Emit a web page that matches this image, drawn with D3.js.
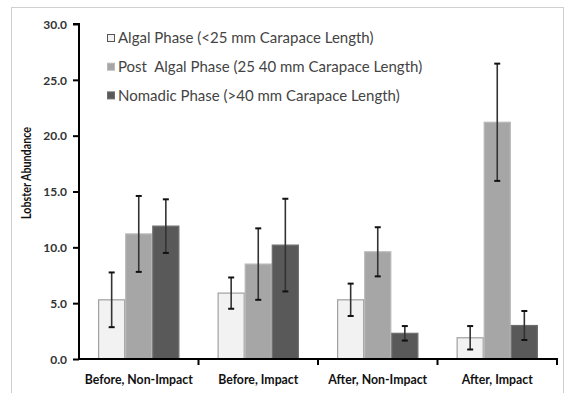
<!DOCTYPE html>
<meta charset="utf-8">
<style>
    body { margin: 0; background: #fff; }
    .frame { fill: none; stroke: #d0d0d0; stroke-width: 1px; }
    .axis-line { stroke: #000; stroke-width: 2px; fill: none; }
    .tick-label { font-family: Lato, sans-serif; font-size: 12px; font-weight: bold; fill: #333; }
    .cat-label { font-family: Lato, sans-serif; font-size: 12.3px; font-weight: bold; fill: #111; }
    .y-title { font-family: Lato, sans-serif; font-size: 13px; font-weight: bold; fill: #111; }
    .legend-text { font-family: Lato, sans-serif; font-size: 15px; fill: #444; }
    .err { stroke: #333; stroke-width: 1.6px; }
    .err-cap { stroke: #111; stroke-width: 2px; }
</style>
<body>
<div id="chart"></div>
<script src="https://cdn.jsdelivr.net/npm/d3@7"></script>
<script>
    var width = 567,
        height = 393;

    var categories = ["Before, Non-Impact", "Before, Impact", "After, Non-Impact", "After, Impact"];
    var series = ["Algal Phase (<25 mm Carapace Length)",
                  "Post  Algal Phase (25 40 mm Carapace Length)",
                  "Nomadic Phase (>40 mm Carapace Length)"];
    var algal = [5.3, 5.9, 5.3, 1.9];
    var algal_err = [2.45, 1.4, 1.45, 1.05];
    var postAlgal = [11.2, 8.5, 9.6, 21.2];
    var postAlgal_err = [3.4, 3.2, 2.2, 5.25];
    var nomadic = [11.9, 10.2, 2.3, 3.0];
    var nomadic_err = [2.4, 4.15, 0.65, 1.3];
    var yTicks = [0, 5, 10, 15, 20, 25, 30];

    var fills = ["#f2f2f2", "#a6a6a6", "#595959"];
    var strokes = ["#a0a0a0", "#b8b8b8", "#6e6e6e"];

    var x0 = 79, x1 = 557, yTop = 24, yBottom = 359;

    var svg = d3.select("#chart").append("svg")
        .attr("width", width)
        .attr("height", height);

    svg.append("rect")
        .attr("class", "frame")
        .attr("x", 11.5).attr("y", 7.5)
        .attr("width", 552).attr("height", 400);

    var x = d3.scaleBand()
        .domain(categories)
        .range([x0, x1])
        .paddingInner(0.32)
        .paddingOuter(0.16);

    var xs = d3.scaleBand()
        .domain(d3.range(series.length))
        .range([0, x.bandwidth()]);

    var y = d3.scaleLinear()
        .domain([0, 30])
        .range([yBottom, yTop]);

    var values = [algal, postAlgal, nomadic];
    var errs = [algal_err, postAlgal_err, nomadic_err];

    var data = [];
    categories.forEach((c, i) => {
        values.forEach((v, s) => {
            data.push({cat: c, s: s, value: v[i], err: errs[s][i]});
        });
    });

    svg.selectAll(".bar")
        .data(data)
        .enter().append("rect")
        .attr("class", "bar")
        .attr("x", d => x(d.cat) + xs(d.s) + 0.5)
        .attr("y", d => y(d.value))
        .attr("width", xs.bandwidth() - 1)
        .attr("height", d => yBottom - y(d.value))
        .attr("fill", d => fills[d.s])
        .attr("stroke", d => strokes[d.s])
        .attr("stroke-width", 1.2);

    var cx = d => x(d.cat) + xs(d.s) + xs.bandwidth() / 2;

    svg.selectAll(".err")
        .data(data)
        .enter().append("line")
        .attr("class", "err")
        .attr("x1", cx).attr("x2", cx)
        .attr("y1", d => y(d.value + d.err))
        .attr("y2", d => y(d.value - d.err));

    ["+", "-"].forEach(sign => {
        svg.selectAll(".cap" + (sign === "+" ? "top" : "bot"))
            .data(data)
            .enter().append("line")
            .attr("class", "err-cap")
            .attr("x1", d => cx(d) - 3).attr("x2", d => cx(d) + 3)
            .attr("y1", d => y(sign === "+" ? d.value + d.err : d.value - d.err))
            .attr("y2", d => y(sign === "+" ? d.value + d.err : d.value - d.err));
    });

    // y axis
    var yAxis = d3.axisLeft(y)
        .tickValues(yTicks)
        .tickSize(6)
        .tickFormat(d3.format(".1f"));

    var gy = svg.append("g")
        .attr("transform", "translate(" + x0 + ",0)")
        .call(yAxis);
    gy.select(".domain").attr("stroke", "#000").attr("stroke-width", 2)
        .attr("d", "M-6," + yTop + "H0V" + yBottom);
    gy.selectAll(".tick line").attr("stroke", "#000").attr("stroke-width", 2);
    gy.selectAll(".tick text").attr("class", "tick-label").attr("x", -12).attr("dy", "0.35em");

    // x axis
    var gx = svg.append("g")
        .attr("transform", "translate(0," + yBottom + ")");
    gx.append("line")
        .attr("class", "axis-line")
        .attr("x1", x0 - 1).attr("x2", x1 + 1);
    var bounds = categories.map(c => x(c) + x.bandwidth() + x.step() * 0.16);
    gx.selectAll(".xtick")
        .data(bounds)
        .enter().append("line")
        .attr("class", "axis-line")
        .attr("x1", d => d).attr("x2", d => d)
        .attr("y1", 0).attr("y2", 6);
    gx.selectAll(".cat-label")
        .data(categories)
        .enter().append("text")
        .attr("class", "cat-label")
        .attr("x", d => x(d) + x.bandwidth() / 2)
        .attr("y", 25)
        .attr("text-anchor", "middle")
        .text(d => d);

    // condensed a bit to mimic the narrow original face
    svg.append("text")
        .attr("class", "y-title")
        .attr("transform", "translate(31,173) rotate(-90)")
        .attr("text-anchor", "middle")
        .attr("textLength", 92)
        .attr("lengthAdjust", "spacingAndGlyphs")
        .text("Lobster Abundance");

    // legend
    var legend = svg.append("g")
        .attr("transform", "translate(107,38)");
    var rows = legend.selectAll(".legend-row")
        .data(series)
        .enter().append("g")
        .attr("transform", (d, i) => "translate(0," + (i * 28.7) + ")");
    rows.append("rect")
        .attr("x", 0.5).attr("y", -3.5)
        .attr("width", 7).attr("height", 7)
        .attr("fill", (d, i) => fills[i])
        .attr("stroke", (d, i) => i === 0 ? "#555" : strokes[i]);
    rows.append("text")
        .attr("class", "legend-text")
        .attr("x", 11)
        .attr("dy", "0.35em")
        .style("white-space", "pre")
        .text(d => d);
</script>
</body>
